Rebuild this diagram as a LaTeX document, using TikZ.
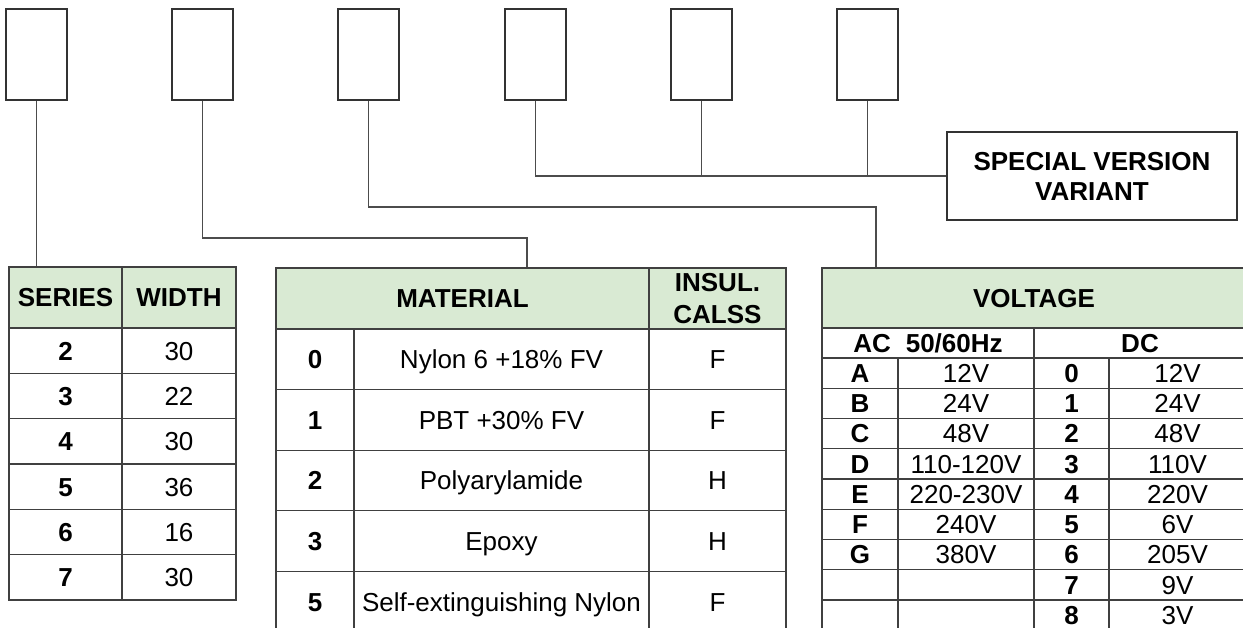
\documentclass[tikz,border=0pt]{standalone}
\usepackage{fontspec}
\setmainfont{Liberation Sans}
\definecolor{hdrgreen}{RGB}{217,234,211}
\tikzset{
  topbox/.style={draw=black!80, line width=1.4pt, minimum width=61pt, minimum height=91pt, inner sep=0pt},
  cellbase/.style={draw=black!75, line width=1.3pt, inner sep=0pt, font=\fontsize{26}{30}\selectfont},
  cell/.style={cellbase, text height=18.7pt, text depth=0pt},
  bcell/.style={cell, font=\fontsize{26}{30}\selectfont\bfseries},
  hdrbase/.style={cellbase, fill=hdrgreen, font=\fontsize{26}{32}\selectfont\bfseries},
  hdr/.style={hdrbase, text height=18.7pt, text depth=0pt},
  conn/.style={draw=black!70, line width=1.2pt},
  svbox/.style={draw=black!80, line width=1.4pt, minimum width=290pt, minimum height=88pt, inner sep=0pt, align=center, font=\fontsize{26}{30}\selectfont\bfseries}
}
\begin{document}
\begin{tikzpicture}[x=1pt, y=-1pt]
\useasboundingbox (0,0) rectangle (1243,628);
\clip (0,0) rectangle (1243,628);

% top boxes
\node[topbox] (b1) at (36.5,54.5) {};
\node[topbox] (b2) at (202.5,54.5) {};
\node[topbox] (b3) at (368.5,54.5) {};
\node[topbox] (b4) at (535.5,54.5) {};
\node[topbox] (b5) at (701.5,54.5) {};
\node[topbox] (b6) at (867.5,54.5) {};

% special version box
\node[svbox] (sv) at (1092,176) {SPECIAL VERSION\\VARIANT};

% series table
\node[hdr, minimum width=113pt, minimum height=61pt] (sh) at (65.5,297.5) {SERIES};
\node[hdr, minimum width=114pt, minimum height=61pt] (wh) at (179,297.5) {WIDTH};
\foreach \s/\w [count=\i] in {2/30,3/22,4/30,5/36,6/16,7/30}{
  \node[bcell, minimum width=113pt, minimum height=45.33pt] (s\i) at (65.5,{328+45.33*(\i-0.5)}) {\s};
  \node[cell, minimum width=114pt, minimum height=45.33pt] (w\i) at (179,{328+45.33*(\i-0.5)}) {\w};
}

% material table
\node[hdr, minimum width=373pt, minimum height=61pt] (mh) at (462.5,298.5) {MATERIAL};
\node[hdrbase, align=center, minimum width=137pt, minimum height=61pt] (ih) at (717.5,298.5) {INSUL.\\CALSS};
\foreach \c/\m/\k [count=\i] in {0/Nylon 6 +18\% FV/F, 1/PBT +30\% FV/F, 2/Polyarylamide/H, 3/Epoxy/H, 5/Self-extinguishing Nylon/F}{
  \node[bcell, minimum width=78pt, minimum height=60.6pt] (mc\i) at (315,{329+60.6*(\i-0.5)}) {\c};
  \node[cell, minimum width=295pt, minimum height=60.6pt] (mm\i) at (501.5,{329+60.6*(\i-0.5)}) {\m};
  \node[cell, minimum width=137pt, minimum height=60.6pt] (mk\i) at (717.5,{329+60.6*(\i-0.5)}) {\k};
}

% voltage table
\node[hdr, minimum width=424pt, minimum height=60pt] (vh) at (1034,298) {VOLTAGE};
\node[bcell, minimum width=212pt, minimum height=30pt] (ach) at (928,343) {AC\hspace{15pt}50/60Hz};
\node[bcell, minimum width=212pt, minimum height=30pt] (dch) at (1140,343) {DC};
\foreach \a/\b/\c/\d [count=\i] in {A/12V/0/12V, B/24V/1/24V, C/48V/2/48V, D/110-120V/3/110V, E/220-230V/4/220V, F/240V/5/6V, G/380V/6/205V, {}/{}/7/9V, {}/{}/8/3V}{
  \node[bcell, minimum width=76pt, minimum height=30.25pt] (va\i) at (860,{358+30.25*(\i-0.5)}) {\a};
  \node[cell, minimum width=136pt, minimum height=30.25pt] (vb\i) at (966,{358+30.25*(\i-0.5)}) {\b};
  \node[bcell, minimum width=75pt, minimum height=30.25pt] (vc\i) at (1071.5,{358+30.25*(\i-0.5)}) {\c};
  \node[cell, minimum width=137pt, minimum height=30.25pt] (vd\i) at (1177.5,{358+30.25*(\i-0.5)}) {\d};
}

% connectors
\coordinate (k2) at (527,238);
\coordinate (k3) at (876,207);
\draw[conn] (b1.south) -- (b1.south |- sh.north);
\draw[conn] (b2.south) |- (k2) -- (k2 |- mh.north);
\draw[conn] (b3.south) |- (k3) -- (k3 |- vh.north);
\draw[conn] (b4.south) |- (sv.west);
\draw[conn] (b5.south) -- (b5.south |- sv.west);
\draw[conn] (b6.south) -- (b6.south |- sv.west);
\end{tikzpicture}
\end{document}
